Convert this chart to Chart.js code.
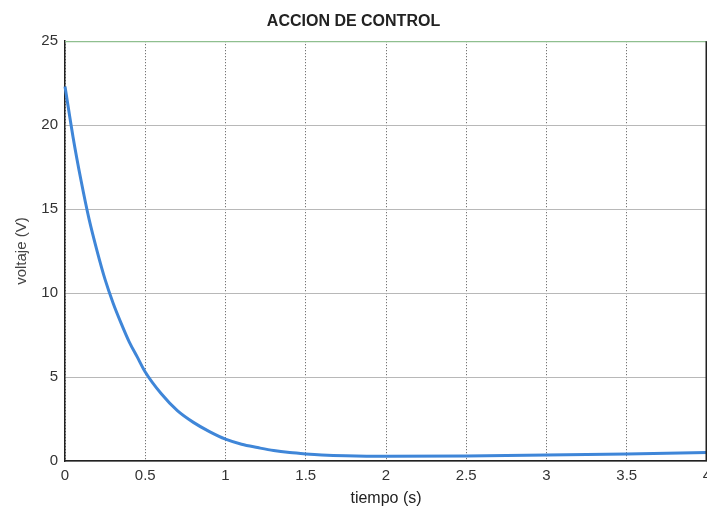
<!DOCTYPE html>
<html>
<head>
<meta charset="utf-8">
<script src="https://cdn.jsdelivr.net/npm/chart.js@4"></script>
<style>
html,body{margin:0;padding:0;background:#fff;}
#wrap{width:707px;height:508px;position:relative;}
</style>
</head>
<body>
<div id="wrap"><canvas id="c" width="707" height="508"></canvas></div>
<script>
const titleText = "ACCION DE CONTROL";
const xLabel = "tiempo (s)";
const yLabel = "voltaje (V)";
const timeValues = [0, 0.05, 0.1, 0.15, 0.2, 0.25, 0.3, 0.35, 0.4, 0.45, 0.5, 0.6, 0.7, 0.8, 0.9, 1.0, 1.1, 1.2, 1.3, 1.4, 1.5, 1.6, 1.75, 2.0, 2.5, 3.0, 3.5, 4.0];
const voltageValues = [22.3, 19.3, 16.7, 14.4, 12.5, 10.8, 9.4, 8.2, 7.1, 6.2, 5.3, 4.0, 3.0, 2.3, 1.75, 1.3, 1.0, 0.8, 0.62, 0.5, 0.42, 0.36, 0.31, 0.28, 0.3, 0.35, 0.42, 0.5];
const xTicks = [0, 0.5, 1, 1.5, 2, 2.5, 3, 3.5, 4];
const yTicks = [0, 5, 10, 15, 20, 25];

const points = timeValues.map((t, i) => ({x: t, y: voltageValues[i]}));

const framePlugin = {
  id: 'frame',
  afterDraw(chart) {
    const {ctx, chartArea: a} = chart;
    ctx.save();
    ctx.lineWidth = 1.2;
    ctx.strokeStyle = '#8fbf8f';
    ctx.beginPath(); ctx.moveTo(a.left, a.top + 0.5); ctx.lineTo(a.right, a.top + 0.5); ctx.stroke();
    ctx.strokeStyle = '#222';
    ctx.lineWidth = 1.5;
    ctx.beginPath(); ctx.moveTo(a.right - 0.75, a.top); ctx.lineTo(a.right - 0.75, a.bottom); ctx.stroke();
    ctx.restore();
  }
};

new Chart(document.getElementById('c'), {
  type: 'line',
  data: {
    datasets: [{
      data: points,
      borderColor: '#3f86d8',
      borderWidth: 3,
      pointRadius: 0,
      cubicInterpolationMode: 'monotone',
      fill: false,
      clip: false
    }]
  },
  options: {
    responsive: false,
    animation: false,
    layout: {padding: {left: 0, right: 0, top: 0, bottom: 0}},
    plugins: {
      legend: {display: false},
      tooltip: {enabled: false},
      title: {
        display: true,
        text: titleText,
        color: '#222',
        font: {family: 'Liberation Sans', size: 16, weight: 'bold'},
        padding: {top: 12, bottom: 10}
      }
    },
    scales: {
      x: {
        type: 'linear',
        min: 0, max: 4,
        afterBuildTicks(s) { s.ticks = xTicks.map(v => ({value: v})); },
        afterFit(s) { s.height = 47; s.paddingRight = 0; s.paddingLeft = 0; },
        ticks: {
          color: '#333',
          font: {family: 'Liberation Sans', size: 15},
          padding: 6,
          maxRotation: 0,
          autoSkip: false,
          callback: v => String(v)
        },
        grid: {
          color: '#555',
          drawTicks: false,
          lineWidth: 1
        },
        border: {display: true, color: '#222', width: 1.5, dash: [1, 2]},
        title: {
          display: true,
          text: xLabel,
          color: '#222',
          font: {family: 'Liberation Sans', size: 16},
          padding: {top: 0, bottom: 0}
        }
      },
      y: {
        type: 'linear',
        min: 0, max: 25,
        afterBuildTicks(s) { s.ticks = yTicks.map(v => ({value: v})); },
        afterFit(s) { s.width = 65; },
        ticks: {
          color: '#333',
          font: {family: 'Liberation Sans', size: 15},
          padding: 7
        },
        grid: {
          color: '#b8b8b8',
          drawTicks: false,
          lineWidth: 1
        },
        border: {display: true, color: '#222', width: 1.5},
        title: {
          display: true,
          text: yLabel,
          color: '#444',
          font: {family: 'Liberation Sans', size: 15},
          padding: {top: 13, bottom: 4}
        }
      }
    }
  },
  plugins: [framePlugin]
});
</script>
</body>
</html>
